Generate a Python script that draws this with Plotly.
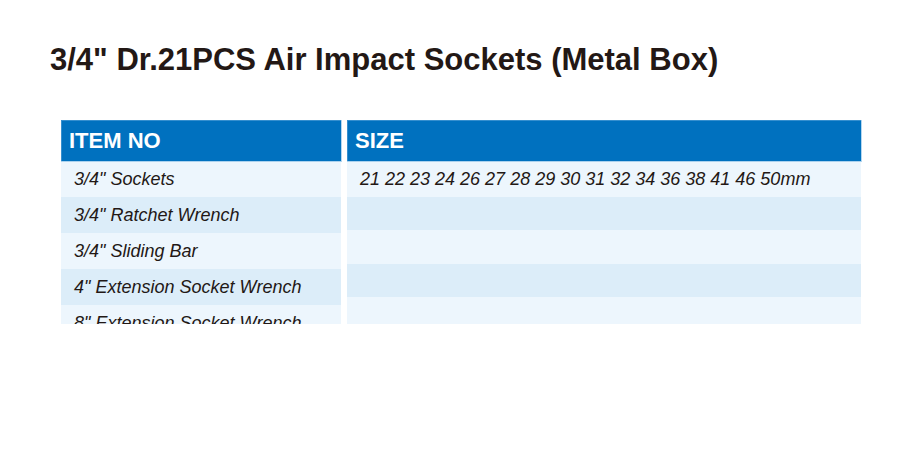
import plotly.graph_objects as go

W, H = 921, 450
headers = ["ITEM NO", "SIZE"]
items = ['3/4" Sockets', '3/4" Ratchet Wrench', '3/4" Sliding Bar',
         '4" Extension Socket Wrench', '8" Extension Socket Wrench']
sizes = ["21 22 23 24 26 27 28 29 30 31 32 34 36 38 41 46 50mm", "", "", "", ""]

row_colors = ["#edf6fd", "#dcedf9", "#edf6fd", "#dcedf9", "#edf6fd"]
# plotly shifts tables by ~8px, compensate
ytop = 1 - 112 / H
ybot = 1 - 317 / H


def make_table(head, vals, x0, x1):
    return go.Table(
        domain=dict(x=[(x0 - 8) / W, (x1 - 8) / W], y=[ybot, ytop]),
        header=dict(values=["<b>" + head + "</b>"], fill_color="#0071bf",
                    line=dict(color="#6aaee0", width=0.5), align="left",
                    font=dict(family="Liberation Sans, Arial", size=22, color="white"),
                    height=33),
        cells=dict(values=[["<i> " + v + "</i>" if v else "" for v in vals]],
                   fill_color=[row_colors], line=dict(color="rgba(0,0,0,0)", width=0),
                   align="left",
                   font=dict(family="Liberation Sans, Arial", size=18, color="#231815"),
                   height=33.4),
    )


fig = go.Figure([make_table(headers[0], items, 61, 341),
                 make_table(headers[1], sizes, 347, 861)])
fig.add_annotation(text="<b>3/4\" Dr.21PCS Air Impact Sockets (Metal Box)</b>",
                   x=40 / W, y=1 - 52 / H, xref="paper", yref="paper",
                   xanchor="left", yanchor="middle", showarrow=False,
                   font=dict(family="Liberation Sans, Arial", size=31, color="#231815"))
fig.update_layout(width=W, height=H, margin=dict(l=0, r=0, t=0, b=0),
                  paper_bgcolor="white", plot_bgcolor="white")
fig.write_html("out.html")
